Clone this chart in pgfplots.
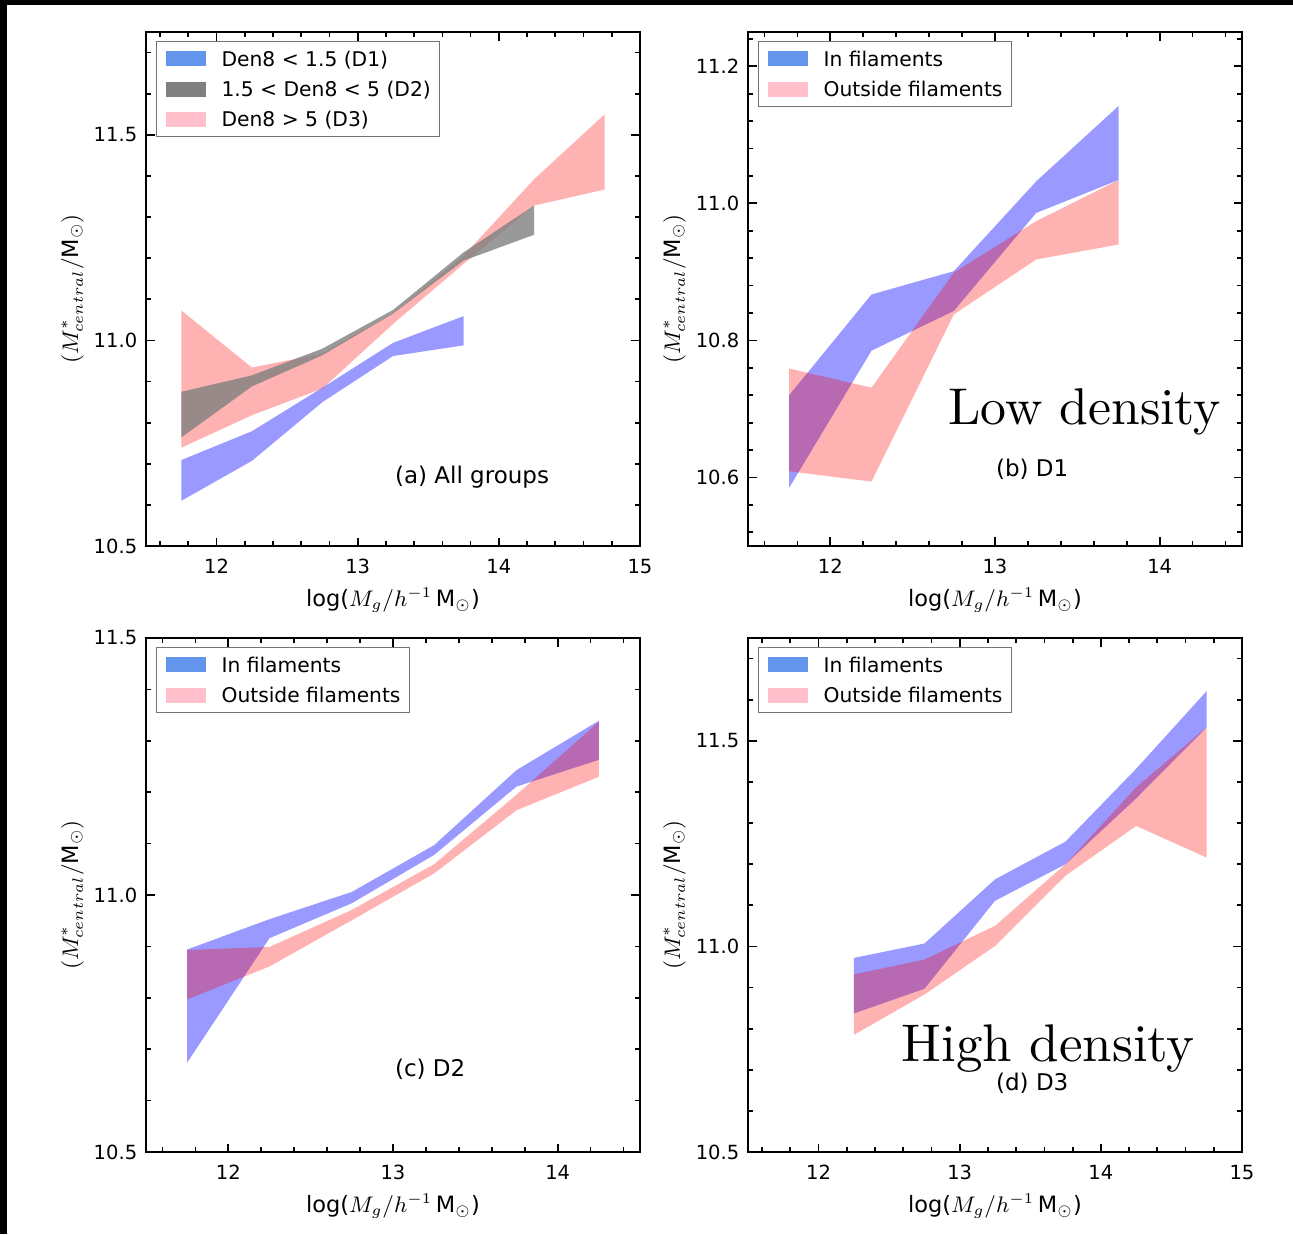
\documentclass[border=0pt]{standalone}
\usepackage{fontspec}
\setsansfont{DejaVu Sans}
\renewcommand{\familydefault}{\sfdefault}
\usepackage{graphicx}
\usepackage{pgfplots}
\pgfplotsset{compat=1.18}
\definecolor{cornflower}{RGB}{100,149,237}
\definecolor{legpink}{RGB}{255,192,203}
\definecolor{leggray}{RGB}{128,128,128}
\definecolor{bandgray}{RGB}{128,128,128}
\pgfplotsset{
  panel/.style={
    scale only axis, width=197.6pt, height=205.6pt,
    anchor=north west,
    tick align=inside, xtick pos=both, ytick pos=both,
    major tick length=3.4pt, minor tick length=2.1pt,
    tick style={black, line width=0.7pt},
    axis line style={line width=0.8pt},
    tick label style={font=\fontsize{7.8}{9}\selectfont},
    /pgf/number format/assume math mode=true,
    yticklabel style={/pgf/number format/.cd, fixed, fixed zerofill, precision=1},
    xticklabel style={yshift=-1.8pt},
    xlabel={log($M_g/h^{-1}$\,M$_\odot$)},
    ylabel={$(M^*_{central}/\mbox{M}_\odot)$},
    label style={font=\fontsize{9}{11}\selectfont},
    xlabel style={at={(axis description cs:0.5,-0.105)}, anchor=center},
    ylabel style={at={(axis description cs:-0.149,0.5)}, anchor=center},
    legend style={at={(axis description cs:0.0202,0.9825)}, anchor=north west,
      draw=black!55, line width=0.5pt, font=\fontsize{8.1}{10}\selectfont,
      inner xsep=3.6pt, inner ysep=3.85pt, row sep=6.1pt,
      nodes={inner sep=0pt, text height=5.9pt, text depth=0pt},
      /tikz/every odd column/.append style={column sep=6.4pt}},
    legend cell align=left,
    legend image code/.code={\fill[#1, draw=none] (0pt,-3pt) rectangle (16pt,3pt);},
  },
  bandblue/.style={draw=none, fill=blue, fill opacity=0.4, forget plot},
  bandpink/.style={draw=none, fill=red, fill opacity=0.3, forget plot},
  bandgrayst/.style={draw=none, fill=bandgray, fill opacity=0.8, forget plot},
}
\newcommand{\annfont}{\fontsize{9.2}{11}\selectfont}
\newcommand{\bigtext}[2]{\scalebox{#1}{\rmfamily\fontsize{10}{12}\selectfont #2}}
\begin{document}
\begin{tikzpicture}
\fill[black] (0pt,0pt) rectangle (517.2pt,-493.6pt);
\fill[white] (2.8pt,-2pt) rectangle (517.2pt,-493.6pt);
\path[use as bounding box] (0pt,0pt) rectangle (517.2pt,-493.6pt);

% (a) All groups
\begin{axis}[panel, at={(58.4pt,-12.8pt)},
  xmin=11.5, xmax=15, ymin=10.5, ymax=11.75,
  xtick={12,13,14,15}, ytick={10.5,11.0,11.5},
  minor xtick={11.6,11.8,12.2,12.4,12.6,12.8,13.2,13.4,13.6,13.8,14.2,14.4,14.6,14.8},
  minor ytick={10.6,10.7,10.8,10.9,11.1,11.2,11.3,11.4,11.6,11.7}]
\addlegendimage{fill=cornflower}
\addlegendentry{Den8 < 1.5 (D1)}
\addlegendimage{fill=leggray}
\addlegendentry{1.5 < Den8 < 5 (D2)}
\addlegendimage{fill=legpink}
\addlegendentry{Den8 > 5 (D3)}
% D1: upper then lower reversed
\addplot[bandblue] coordinates {
 (11.75,10.709) (12.25,10.779) (12.75,10.885) (13.25,10.994) (13.75,11.059)
 (13.75,10.988) (13.25,10.962) (12.75,10.850) (12.25,10.707) (11.75,10.610)};
% D3
\addplot[bandpink] coordinates {
 (11.75,11.073) (12.25,10.934) (12.75,10.968) (13.25,11.066) (13.75,11.206) (14.25,11.392) (14.75,11.550)
 (14.75,11.367) (14.25,11.328) (13.75,11.186) (13.25,11.040) (12.75,10.883) (12.25,10.818) (11.75,10.739)};
% D2
\addplot[bandgrayst] coordinates {
 (11.75,10.875) (12.25,10.915) (12.75,10.980) (13.25,11.074) (13.75,11.214) (14.25,11.328)
 (14.25,11.257) (13.75,11.194) (13.25,11.065) (12.75,10.964) (12.25,10.888) (11.75,10.764)};
\node[font=\annfont, anchor=center] at (axis cs:13.81,10.667) {(a) All groups};
\end{axis}

% (b) D1
\begin{axis}[panel, at={(299.2pt,-12.8pt)},
  xmin=11.5, xmax=14.5, ymin=10.5, ymax=11.25,
  xtick={12,13,14}, ytick={10.6,10.8,11.0,11.2},
  minor xtick={11.6,11.8,12.2,12.4,12.6,12.8,13.2,13.4,13.6,13.8,14.2,14.4},
  minor ytick={10.52,10.56,10.64,10.68,10.72,10.76,10.84,10.88,10.92,10.96,11.04,11.08,11.12,11.16,11.24}]
\addlegendimage{fill=cornflower}
\addlegendentry{In filaments}
\addlegendimage{fill=legpink}
\addlegendentry{Outside filaments}
\addplot[bandblue] coordinates {
 (11.75,10.720) (12.25,10.867) (12.75,10.901) (13.25,11.032) (13.75,11.142)
 (13.75,11.034) (13.25,10.986) (12.75,10.843) (12.25,10.785) (11.75,10.585)};
\addplot[bandpink] coordinates {
 (11.75,10.759) (12.25,10.731) (12.75,10.899) (13.25,10.974) (13.75,11.034)
 (13.75,10.940) (13.25,10.918) (12.75,10.838) (12.25,10.594) (11.75,10.609)};
\node[anchor=base west, inner sep=0pt] at (axis cs:12.713,10.678) {\bigtext{2.07}{Low density}};
\node[font=\annfont, anchor=center] at (axis cs:13.226,10.612) {(b) D1};
\end{axis}

% (c) D2
\begin{axis}[panel, at={(58.4pt,-255.2pt)},
  xmin=11.5, xmax=14.5, ymin=10.5, ymax=11.5,
  xtick={12,13,14}, ytick={10.5,11.0,11.5},
  minor xtick={11.6,11.8,12.2,12.4,12.6,12.8,13.2,13.4,13.6,13.8,14.2,14.4},
  minor ytick={10.6,10.7,10.8,10.9,11.1,11.2,11.3,11.4}]
\addlegendimage{fill=cornflower}
\addlegendentry{In filaments}
\addlegendimage{fill=legpink}
\addlegendentry{Outside filaments}
\addplot[bandblue] coordinates {
 (11.75,10.894) (12.25,10.953) (12.75,11.006) (13.25,11.097) (13.75,11.243) (14.25,11.339)
 (14.25,11.263) (13.75,11.211) (13.25,11.078) (12.75,10.984) (12.25,10.916) (11.75,10.674)};
\addplot[bandpink] coordinates {
 (11.75,10.893) (12.25,10.899) (12.75,10.971) (13.25,11.060) (13.75,11.195) (14.25,11.337)
 (14.25,11.230) (13.75,11.165) (13.25,11.042) (12.75,10.951) (12.25,10.861) (11.75,10.797)};
\node[font=\annfont, anchor=center] at (axis cs:13.226,10.661) {(c) D2};
\end{axis}

% (d) D3
\begin{axis}[panel, at={(299.2pt,-255.2pt)},
  xmin=11.5, xmax=15, ymin=10.5, ymax=11.75,
  xtick={12,13,14,15}, ytick={10.5,11.0,11.5},
  minor xtick={11.6,11.8,12.2,12.4,12.6,12.8,13.2,13.4,13.6,13.8,14.2,14.4,14.6,14.8},
  minor ytick={10.6,10.7,10.8,10.9,11.1,11.2,11.3,11.4,11.6,11.7}]
\addlegendimage{fill=cornflower}
\addlegendentry{In filaments}
\addlegendimage{fill=legpink}
\addlegendentry{Outside filaments}
\addplot[bandblue] coordinates {
 (12.25,10.972) (12.75,11.007) (13.25,11.163) (13.75,11.255) (14.25,11.432) (14.75,11.621)
 (14.75,11.533) (14.25,11.360) (13.75,11.200) (13.25,11.111) (12.75,10.897) (12.25,10.837)};
\addplot[bandpink] coordinates {
 (12.25,10.932) (12.75,10.968) (13.25,11.050) (13.75,11.200) (14.25,11.387) (14.75,11.533)
 (14.75,11.216) (14.25,11.293) (13.75,11.172) (13.25,11.001) (12.75,10.883) (12.25,10.785)};
\node[anchor=base west, inner sep=0pt] at (axis cs:12.585,10.7195) {\bigtext{2.12}{High density}};
\node[font=\annfont, anchor=center] at (axis cs:13.514,10.668) {(d) D3};
\end{axis}
\end{tikzpicture}
\end{document}
